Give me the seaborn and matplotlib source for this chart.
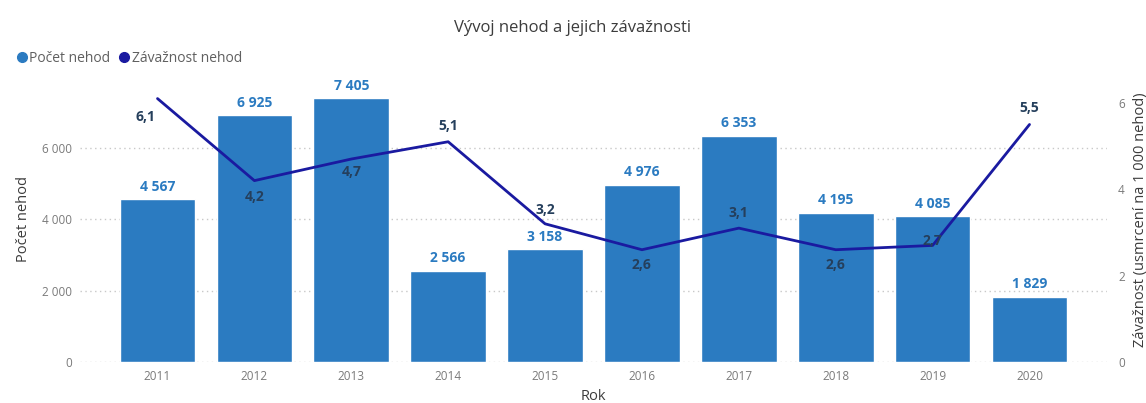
import numpy as np
import pandas as pd
import matplotlib
matplotlib.use("Agg")
import matplotlib.pyplot as plt
import seaborn as sns
from matplotlib.lines import Line2D
from matplotlib.ticker import FuncFormatter

# data
years = ['2011', '2012', '2013', '2014', '2015', '2016', '2017', '2018', '2019', '2020']
accidents = [4567, 6925, 7405, 2566, 3158, 4976, 6353, 4195, 4085, 1829]
severity = [6.1, 4.2, 4.7, 5.1, 3.2, 2.6, 3.1, 2.6, 2.7, 5.5]

# offset (points) of each severity label centre relative to its point
sev_label_dy = [-13, -11.5, -9.5, 11, 10, -11, 11, -11, 3.5, 12]
sev_label_dx = [-9, 0, 0, 0, 0, 0, 0, 0, 0, 0]

BAR_COLOR = '#2b7bc1'
LINE_COLOR = '#1a1aa0'
LABEL_DARK = '#253f5c'
TICK_GREY = '#7a7a7a'
TEXT_GREY = '#3c3c3c'

sns.set_theme(style='white')
plt.rcParams['font.family'] = ['Open Sans', 'DejaVu Sans']

df = pd.DataFrame({'Rok': years, 'Pocet': accidents, 'Zavaznost': severity})

fig = plt.figure(figsize=(11.46, 4.03), dpi=100)
ax = fig.add_axes([0.0698, 0.1017, 0.8962, 0.7073])

sns.barplot(data=df, x='Rok', y='Pocet', color=BAR_COLOR, saturation=1,
            width=0.78, ax=ax)
ax.set_xlim(-0.8, 9.8)
ax.set_ylim(0, 8000)
ax.set_yticks([0, 2000, 4000, 6000])
ax.yaxis.set_major_formatter(FuncFormatter(lambda v, p: f'{int(v):,}'.replace(',', ' ')))
ax.grid(axis='y', linestyle=(0, (1, 2.5)), color='#c8c8c8', linewidth=1)
ax.set_axisbelow(True)
for s in ax.spines.values():
    s.set_visible(False)
ax.tick_params(axis='both', length=0, labelsize=8.5, labelcolor=TICK_GREY, pad=6)
ax.set_xlabel('Rok', fontsize=10.5, color=TEXT_GREY, labelpad=4)
ax.set_ylabel('Počet nehod', fontsize=10.5, color=TEXT_GREY, labelpad=8)

for i, v in enumerate(accidents):
    ax.annotate(f'{v:,}'.replace(',', ' '), (i, v), xytext=(0, 4),
                textcoords='offset points', ha='center', va='bottom',
                fontsize=10, fontweight='bold', color=BAR_COLOR)

ax2 = ax.twinx()
sns.lineplot(x=np.arange(len(years)), y=severity, color=LINE_COLOR,
             linewidth=2, ax=ax2)
ax2.set_xlim(-0.8, 9.8)
ax2.set_ylim(0, 6.6)
ax2.set_yticks([0, 2, 4, 6])
for s in ax2.spines.values():
    s.set_visible(False)
ax2.tick_params(axis='y', length=0, labelsize=8.5, labelcolor=TICK_GREY, pad=8)
ax2.set_ylabel('Závažnost (usmrcení na 1 000 nehod)', fontsize=10.5,
               color=TEXT_GREY, labelpad=6)

for i, v in enumerate(severity):
    ax2.annotate(f'{v:.1f}'.replace('.', ','), (i, v),
                 xytext=(sev_label_dx[i], sev_label_dy[i]), textcoords='offset points',
                 ha='center', va='center',
                 fontsize=10, fontweight='bold', color=LABEL_DARK)

fig.text(0.5, 0.93, 'Vývoj nehod a jejich závažnosti', ha='center', va='center',
         fontsize=12, color=TEXT_GREY)

handles = [Line2D([], [], marker='o', linestyle='', markersize=7,
                  markerfacecolor=BAR_COLOR, markeredgecolor=BAR_COLOR),
           Line2D([], [], marker='o', linestyle='', markersize=7,
                  markerfacecolor=LINE_COLOR, markeredgecolor=LINE_COLOR)]
fig.legend(handles, ['Počet nehod', 'Závažnost nehod'], loc='center left',
           bbox_to_anchor=(0.002, 0.855), ncol=2, frameon=False, fontsize=10,
           handletextpad=0.05, columnspacing=0.5, handlelength=1,
           labelcolor='#606060')

fig.savefig('out.png', dpi=100)
